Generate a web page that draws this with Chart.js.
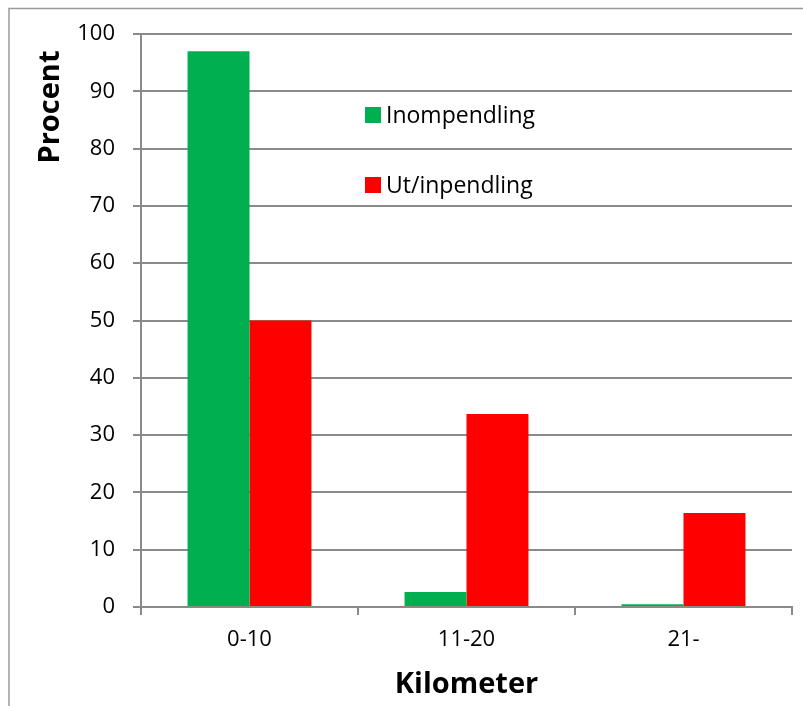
<!DOCTYPE html>
<html>
<head>
<meta charset="utf-8">
<script src="https://cdn.jsdelivr.net/npm/chart.js@4.4.0/dist/chart.umd.min.js"></script>
<style>
  html, body { margin: 0; padding: 0; background: #fff; }
  #wrap { width: 803px; height: 706px; position: relative; }
</style>
</head>
<body>
<div id="wrap"><canvas id="pendling" width="803" height="706"></canvas></div>
<script>
// data
var kategorier = ['0-10', '11-20', '21-'];
var inompendling = [97, 2.6, 0.5];
var utInpendling = [50, 33.7, 16.4];
var serieNamn = ['Inompendling', 'Ut/inpendling'];
var yTitel = 'Procent';
var xTitel = 'Kilometer';

var gra = '#8a8a8a';

// ram runt diagrammet + y-titel + legend inne i ritytan
var ramPlugin = {
    id: 'ram',
    beforeDraw: function (chart) {
        var ctx = chart.ctx;
        ctx.save();
        ctx.strokeStyle = '#9a9a9a';
        ctx.lineWidth = 1.5;
        ctx.beginPath();
        ctx.moveTo(9, 706);
        ctx.lineTo(9, 8.5);
        ctx.lineTo(803, 8.5);
        ctx.stroke();
        ctx.restore();
    },
    afterDraw: function (chart) {
        var ctx = chart.ctx;
        ctx.save();
        // y-titel
        ctx.translate(51, 107);
        ctx.rotate(-Math.PI / 2);
        ctx.font = 'bold 29px "Open Sans"';
        ctx.fillStyle = '#000';
        ctx.textAlign = 'center';
        ctx.textBaseline = 'middle';
        ctx.fillText(yTitel, 0, 0);
        ctx.restore();

        // legend
        ctx.save();
        ctx.font = '23px "Open Sans"';
        ctx.textBaseline = 'middle';
        chart.data.datasets.forEach(function (ds, i) {
            var cy = 115 + i * 70;
            ctx.fillStyle = ds.backgroundColor;
            ctx.fillRect(365, cy - 8, 16, 16);
            ctx.fillStyle = '#000';
            ctx.fillText(ds.label, 386, cy + 1);
        });
        ctx.restore();
    }
};

var ctx1 = document.getElementById('pendling').getContext('2d');
var pendlingChart = new Chart(ctx1, {
    type: 'bar',
    data: {
        labels: kategorier,
        datasets: [
            {
                label: serieNamn[0],
                data: inompendling,
                backgroundColor: '#00B050',
                borderWidth: 0
            },
            {
                label: serieNamn[1],
                data: utInpendling,
                backgroundColor: '#FF0000',
                borderWidth: 0
            }
        ]
    },
    options: {
        responsive: false,
        animation: false,
        layout: {
            padding: { top: 34, right: 11, left: 0, bottom: 0 }
        },
        categoryPercentage: 0.571,
        barPercentage: 1,
        plugins: {
            legend: { display: false },
            tooltip: { enabled: false }
        },
        scales: {
            x: {
                afterFit: function (scale) { scale.height = 99; },
                grid: {
                    drawOnChartArea: false,
                    color: gra,
                    lineWidth: 2,
                    tickLength: 8,
                    offset: true
                },
                border: { color: gra, width: 2 },
                ticks: {
                    color: '#000',
                    padding: 12,
                    font: { family: 'Open Sans', size: 22 }
                },
                title: {
                    display: true,
                    text: xTitel,
                    color: '#000',
                    padding: { top: 0, bottom: 4 },
                    font: { family: 'Open Sans', size: 29, weight: 'bold' }
                }
            },
            y: {
                min: 0,
                max: 100,
                afterFit: function (scale) { scale.width = 141; },
                grid: {
                    color: gra,
                    lineWidth: 2,
                    tickLength: 8
                },
                border: { color: gra, width: 2 },
                ticks: {
                    stepSize: 10,
                    color: '#000',
                    padding: 18,
                    font: { family: 'Open Sans', size: 22 }
                }
            }
        }
    },
    plugins: [ramPlugin]
});
</script>
</body>
</html>
